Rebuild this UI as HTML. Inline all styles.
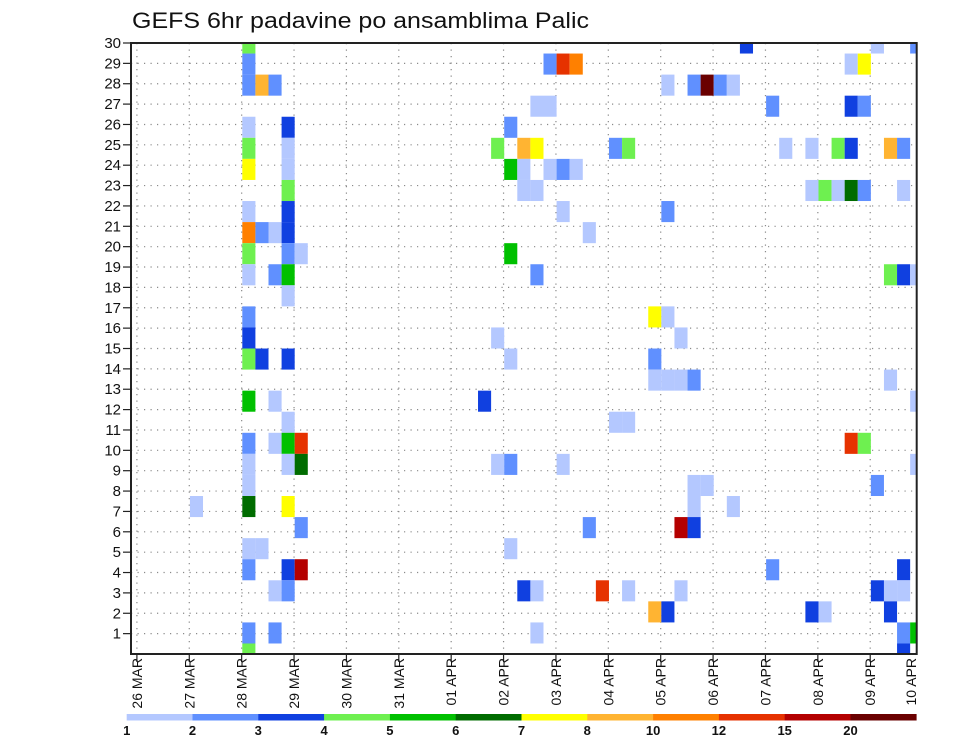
<!DOCTYPE html>
<html><head><meta charset="utf-8"><style>
html,body{margin:0;padding:0;background:#fff;}
svg{display:block;font-family:"Liberation Sans",sans-serif;}
</style></head><body>
<svg id="chart" width="960" height="742" viewBox="0 0 960 742" xmlns="http://www.w3.org/2000/svg">
<rect width="960" height="742" fill="#fff"/>
<text x="132" y="28" font-size="22" fill="#111" textLength="457" lengthAdjust="spacingAndGlyphs">GEFS 6hr padavine po ansamblima Palic</text>
<defs><clipPath id="plotclip"><rect x="131" y="43" width="785.7" height="611"/></clipPath></defs>
<g id="grid"></g>
<g id="cells" clip-path="url(#plotclip)"></g>
<g id="axes"></g>
<g id="colorbar"></g>
</svg>
<script>
// Data: column index (6-hour steps from 26 MAR 00Z), member row (j=0 top), precip value
const cellCols = [9,9,9,9,9,9,9,9,9,9,9,9,9,9,9,9,9,9,9,9,9,9,
 10,10,10,10, 11,11,11,11,11,11,11,
 12,12,12,12,12,12,12,12,12,12,12,12,12,12,12,12,
 13,13,13,13,13, 5, 27, 28,28,28, 29,29,29,29,29,29,
 30,30,30,30, 31,31,31,31,31,31, 32,32,32, 33,33,33,33, 34,34, 35,35,
 37,37,36, 38,38,38, 40,40,40,40, 41,41,41,41,41, 42,42,42,42,
 43,43,43,43,43, 44,44, 45, 46,46, 47, 49,49, 50, 52,52, 53,52, 54,54,53,
 55,55,55,55,55, 56,56,56,56, 57,57,57, 58,58,58,58,58,
 59,59,59,59,59,59,59, 60,60,60,60,60];
const cellRows = [0,1,2,4,5,6,8,9,10,11,13,14,15,17,19,20,21,22,24,25,28,29,
 2,9,15,24, 2,9,11,17,19,26,28,
 4,5,6,7,8,9,10,11,12,15,18,19,20,22,25,26,
 10,19,20,23,25, 22, 17, 5,14,20, 4,6,10,15,20,24,
 5,6,7,26, 3,5,7,11,26,28, 1,3,6, 1,6,8,20, 1,6, 9,23,
 5,18,26, 5,18,26, 13,15,16,27, 2,8,13,16,27, 14,16,23,26,
 2,16,21,22,23, 2,21, 2, 2,22, 0, 3,25, 5, 5,7, 7,27, 5,7,27,
 1,3,5,7,19, 1,3,7,19, 0,21,26, 5,11,16,26,27,
 5,7,11,25,26,28,29, 0,11,17,20,28];
const cellValues = [4.5,2.5,2.5,1.5,4.5,7.5,1.5,11,4.5,1.5,2.5,3.5,4.5,5.5,2.5,1.5,1.5,6.5,1.5,2.5,2.5,4.5,
 9,2.5,3.5,1.5, 2.5,1.5,2.5,1.5,1.5,1.5,2.5,
 3.5,1.5,1.5,4.5,3.5,3.5,2.5,5.5,1.5,3.5,1.5,5.5,1.5,7.5,3.5,2.5,
 1.5,13,6.5,2.5,17, 1.5, 3.5, 4.5,1.5,1.5, 2.5,5.5,5.5,1.5,2.5,1.5,
 9,1.5,1.5,3.5, 1.5,7.5,1.5,2.5,1.5,1.5, 2.5,1.5,1.5, 13,2.5,1.5,1.5, 11,1.5, 1.5,2.5,
 2.5,1.5,13, 4.5,1.5,1.5, 7.5,2.5,1.5,9, 1.5,2.5,1.5,1.5,3.5, 1.5,1.5,17,1.5,
 2.5,2.5,1.5,1.5,3.5, 22,1.5, 2.5, 1.5,1.5, 3.5, 2.5,2.5, 1.5, 1.5,1.5, 4.5,3.5, 4.5,1.5,1.5,
 1.5,3.5,3.5,6.5,13, 7.5,2.5,2.5,4.5, 1.5,2.5,3.5, 9,4.5,1.5,1.5,3.5,
 2.5,1.5,3.5,3.5,1.5,2.5,3.5, 2.5,1.5,1.5,1.5,5.5];
const levels = [1,2,3,4,5,6,7,8,10,12,15,20];
const levelLabels = ["1","2","3","4","5","6","7","8","10","12","15","20"];
const levelColors = ["#b4c8ff","#6090ff","#1040e0","#6ef050","#00c000","#006c00","#ffff00","#ffb432","#ff8000","#e63200","#b40000","#6a0000"];
const yTickLabels = [30,29,28,27,26,25,24,23,22,21,20,19,18,17,16,15,14,13,12,11,10,9,8,7,6,5,4,3,2,1];
const dateLabels = ["26 MAR","27 MAR","28 MAR","29 MAR","30 MAR","31 MAR","01 APR","02 APR","03 APR","04 APR","05 APR","06 APR","07 APR","08 APR","09 APR","10 APR"];

const NS="http://www.w3.org/2000/svg";
const L=131,T=43,R=916.7,B=654;
const colW=13.095, rowH=21.07;
function xCell(c){return L + c*colW;}
function yCell(j){return T + j*rowH;}
function yTick(v){return T + (30-v)*(B-T)/30;}
function xDate(d){return 136.9 + d*52.38;}
function colorFor(v){let k=0;for(let i=0;i<levels.length;i++){if(v>=levels[i])k=i;}return levelColors[k];}
function mk(tag,attrs,parent){const e=document.createElementNS(NS,tag);for(const k in attrs)e.setAttribute(k,attrs[k]);parent.appendChild(e);return e;}

const grid=document.getElementById('grid');
yTickLabels.forEach(v=>{
  const l=mk('line',{x1:L,x2:R,y1:yTick(v),y2:yTick(v),stroke:'#8a8a8a','stroke-width':1.2,'stroke-dasharray':'1.2 5.3'},grid);
  
  
});
dateLabels.forEach((d,i)=>{
  const x=xDate(i); if(x>R-2) return;
  const l=mk('line',{x1:x,x2:x,y1:T,y2:B,stroke:'#8a8a8a','stroke-width':1.2,'stroke-dasharray':'1.2 5.3'},grid);
  
  
});

const cells=document.getElementById('cells');
for(let i=0;i<cellCols.length;i++){
  const r=mk('rect',{x:xCell(cellCols[i])-colW/2,y:yCell(cellRows[i])-rowH/2,width:colW,height:rowH,fill:colorFor(cellValues[i])},cells);
  
  
}

const axes=document.getElementById('axes');
const fr=mk('rect',{x:L,y:T,width:R-L,height:B-T,fill:'none',stroke:'#222','stroke-width':2},axes);


yTickLabels.forEach(v=>{
  const y=yTick(v);
  const t=mk('line',{x1:123,x2:L,y1:y,y2:y,stroke:'#222','stroke-width':1.2},axes);
  
  
  const tx=mk('text',{x:121,y:y+5,'font-size':15,'text-anchor':'end',fill:'#111'},axes);
  tx.textContent=v;
  
  
});
dateLabels.forEach((d,i)=>{
  let x=xDate(i);
  if(x<R){
    const t=mk('line',{x1:x,x2:x,y1:B,y2:B+8,stroke:'#222','stroke-width':1.2},axes);
    
    
  } else x=911;
  const tx=mk('text',{x:0,y:0,'font-size':14,'text-anchor':'end',fill:'#111',transform:'translate('+(x+5)+','+(B+4)+') rotate(-90)'},axes);
  tx.textContent=d;
  
  
});

const cb=document.getElementById('colorbar');
const cbX=126.7, cbW=65.8;
levelColors.forEach((c,i)=>{
  const r=mk('rect',{x:cbX+i*cbW,y:714,width:cbW+0.3,height:6.5,fill:c},cb);
  
  
});
levelLabels.forEach((s,i)=>{
  const t=mk('text',{x:cbX+i*cbW,y:735,'font-size':13,'font-weight':'bold','text-anchor':'middle',fill:'#111'},cb);
  t.textContent=s;
  
  
});
</script>
</body></html>
